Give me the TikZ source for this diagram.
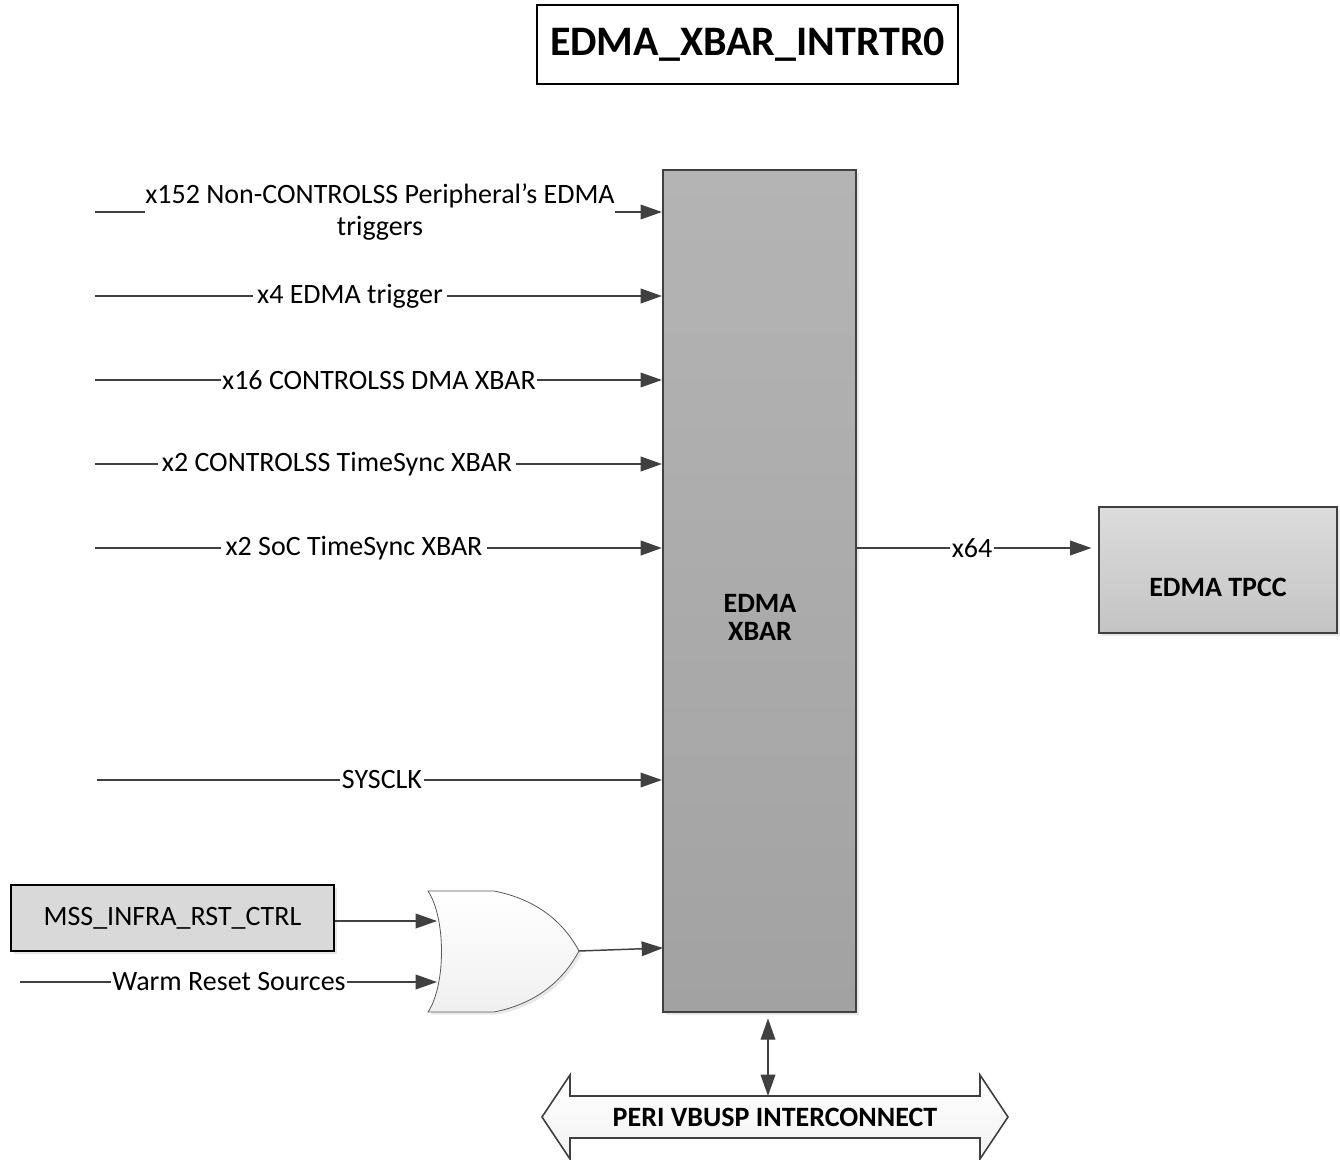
\documentclass[tikz,border=0pt]{standalone}
\usepackage{fontspec}
\setmainfont{Carlito}
\usetikzlibrary{arrows.meta,shadows}
\definecolor{edge}{HTML}{404040}
\definecolor{xbartop}{HTML}{B4B4B4}
\definecolor{xbarbot}{HTML}{A2A2A2}
\definecolor{tptop}{HTML}{DCDCDC}
\definecolor{tpbot}{HTML}{C4C4C4}
\definecolor{mssfill}{HTML}{D9D9D9}
\tikzset{
  conn/.style={line width=1.1pt, draw=edge},
  arr/.style={conn, -{Triangle[length=16pt,width=11pt]}},
  lbl/.style={font=\fontsize{21pt}{24pt}\selectfont, inner sep=1pt, text=black},
  softshadow/.style={drop shadow={opacity=0.18, shadow xshift=2pt, shadow yshift=-2pt}},
}
\begin{document}
\begin{tikzpicture}[x=0.75pt,y=-0.75pt]
\useasboundingbox (0,0) rectangle (1340,1160);
% title
\node (title) [draw=black, line width=1.3pt, minimum width=315.75pt, minimum height=59.25pt,
  font=\fontsize{31.5pt}{36pt}\selectfont\bfseries] at (747.5,44.5) {EDMA\_XBAR\_INTRTR0};
% main xbar
\node (xbar) [draw=edge, line width=1.6pt, top color=xbartop, bottom color=xbarbot, softshadow,
  minimum width=144.75pt, minimum height=631.5pt, inner sep=0pt] at (759.5,591) {};
\node (xbarlbl) [align=center, font=\fontsize{21pt}{21pt}\selectfont\bfseries] at (760,617) {EDMA\\XBAR};
% TPCC
\node (tpcc) [draw=edge, line width=1.3pt, top color=tptop, bottom color=tpbot, softshadow,
  minimum width=178.5pt, minimum height=94.5pt, inner sep=0pt] at (1218,570) {};
\node (tpcclbl) [font=\fontsize{21pt}{24pt}\selectfont\bfseries] at (1218,587) {EDMA TPCC};
% MSS
\node (mss) [draw=black, line width=1.3pt, fill=mssfill, softshadow,
  minimum width=242.25pt, minimum height=49.5pt, inner sep=0pt, lbl] at (172.5,918) {MSS\_INFRA\_RST\_CTRL};
% OR gate
\draw[draw=gray!70!black, line width=0.6pt, top color=white, bottom color=gray!12, softshadow]
  (428,891) -- (494,891) .. controls (540,900) and (565,925) .. (579,951)
  .. controls (565,977) and (540,1003) .. (494,1012) -- (428,1012)
  .. controls (446,985) and (446,918) .. (428,891) -- cycle;
\coordinate (orin1) at (437,921);
\coordinate (orin2) at (437,982);
\coordinate (orout) at (579,951);
% inputs
\coordinate (in1) at (95,212);
\node (l1) [lbl, align=center, inner sep=0pt] at (380,212) {x152 Non-CONTROLSS Peripheral’s EDMA\\triggers};
\draw[conn] (in1) -- (l1.west);
\draw[arr] (l1.east) -- (xbar.west |- l1.east);

\coordinate (in2) at (95,296);
\node (l2) [lbl, inner xsep=3pt] at (350,296) {x4 EDMA trigger};
\draw[conn] (in2) -- (l2.west);
\draw[arr, line width=1.5pt] (l2.east) -- (xbar.west |- l2);

\coordinate (in3) at (95,380);
\node (l3) [lbl] at (379,380) {x16 CONTROLSS DMA XBAR};
\draw[conn] (in3) -- (l3.west);
\draw[arr] (l3.east) -- (xbar.west |- l3);

\coordinate (in4) at (95,464);
\node (l4) [lbl, inner xsep=3pt] at (337,464) {x2 CONTROLSS TimeSync XBAR};
\draw[conn] (in4) -- (l4.west);
\draw[arr, line width=1.5pt] (l4.east) -- (xbar.west |- l4);

\coordinate (in5) at (95,548);
\node (l5) [lbl, inner xsep=3pt] at (354,548) {x2 SoC TimeSync XBAR};
\draw[conn] (in5) -- (l5.west);
\draw[arr, line width=1.5pt] (l5.east) -- (xbar.west |- l5);

\coordinate (in6) at (97,780);
\node (l6) [lbl] at (382,780) {SYSCLK};
\draw[conn] (in6) -- (l6.west);
\draw[arr] (l6.east) -- (xbar.west |- l6);

% output
\node (l7) [lbl] at (972,548) {x64};
\draw[conn] (xbar.east |- l7) -- (l7.west);
\draw[arr] (l7.east) -- ([xshift=-5pt]tpcc.west |- l7);

% OR inputs
\draw[arr] (mss.east |- orin1) -- (orin1);
\coordinate (in8) at (20,982);
\node (l8) [lbl] at (229,982) {Warm Reset Sources};
\draw[conn] (in8) -- (l8.west);
\draw[arr] (l8.east) -- (orin2);
\coordinate (xbarrst) at (663,948);
\draw[arr] (orout) -- (xbarrst);

% bus
\draw[draw=edge, line width=1.2pt, top color=white, bottom color=gray!10]
  (542,1117) -- (570,1075) -- (570,1096) -- (980,1096) -- (980,1075) -- (1008,1117)
  -- (980,1159) -- (980,1138) -- (570,1138) -- (570,1159) -- cycle;
\node (bus) [font=\fontsize{21pt}{24pt}\selectfont\bfseries] at (775,1117) {PERI VBUSP INTERCONNECT};
\coordinate (bustop) at (768,1096);
\draw[conn, {Triangle[length=16pt,width=11pt]}-{Triangle[length=16pt,width=11pt]}] ([yshift=-4pt]xbar.south -| bustop) -- (bustop);
\end{tikzpicture}
\end{document}
